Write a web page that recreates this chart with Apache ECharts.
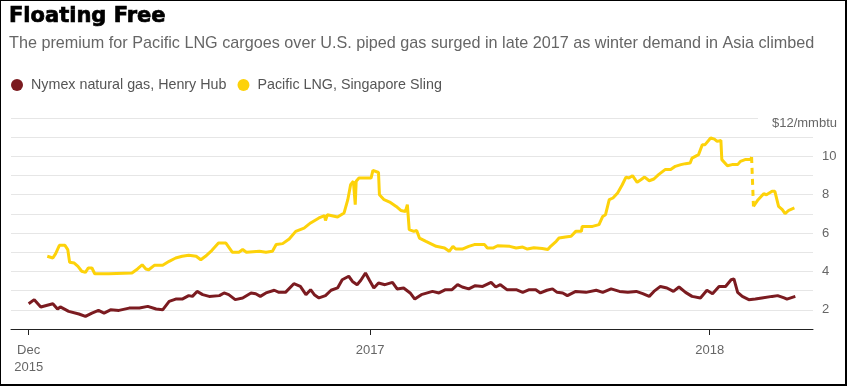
<!DOCTYPE html>
<html>
<head>
<meta charset="utf-8">
<script src="https://cdn.jsdelivr.net/npm/echarts@6/dist/echarts.min.js"></script>
<style>
  html, body { margin: 0; padding: 0; background: #fff; }
  #wrap { position: relative; width: 847px; height: 386px; }
  #chart { position: absolute; left: 0; top: 0; width: 847px; height: 386px; }
  #frame { position: absolute; left: 0; top: 0; width: 847px; height: 386px; box-sizing: border-box;
           border-style: solid; border-color: #000; border-width: 1px 2px 2px 1px; pointer-events: none; }
</style>
</head>
<body>
<div id="wrap"><div id="chart"></div><div id="frame"></div></div>
<script>
// ---------------- data ----------------
const titleText = 'Floating Free';
const subtitleText = 'The premium for Pacific LNG cargoes over U.S. piped gas surged in late 2017 as winter demand in Asia climbed';
const henryName = 'Nymex natural gas, Henry Hub';
const lngName = 'Pacific LNG, Singapore Sling';
const unitLabel = '$12/mmbtu';

const xTickDates = ['2015-12-31', '2017-01-01', '2018-01-01'];
const xTickLabels = ['Dec\n2015', '2017', '2018'];
const yLabelValues = [2, 4, 6, 8, 10];

const henryDates = [
  '2015-12-31','2016-01-06','2016-01-13','2016-01-26','2016-01-31','2016-02-03','2016-02-12','2016-02-23',
  '2016-03-01','2016-03-08','2016-03-15','2016-03-21','2016-03-28','2016-04-06','2016-04-17','2016-04-28',
  '2016-05-07','2016-05-16','2016-05-23','2016-05-30','2016-06-06','2016-06-13','2016-06-20','2016-06-24',
  '2016-06-29','2016-07-05','2016-07-12','2016-07-23','2016-07-28','2016-08-02','2016-08-09','2016-08-17',
  '2016-08-26','2016-08-31','2016-09-05','2016-09-11','2016-09-20','2016-09-25','2016-10-02','2016-10-11',
  '2016-10-18','2016-10-24','2016-10-29','2016-11-02','2016-11-07','2016-11-14','2016-11-20','2016-11-27',
  '2016-12-02','2016-12-09','2016-12-13','2016-12-18','2016-12-22','2016-12-27','2016-12-31','2017-01-05',
  '2017-01-10','2017-01-17','2017-01-25','2017-01-30','2017-02-06','2017-02-13','2017-02-18','2017-02-25',
  '2017-03-09','2017-03-16','2017-03-23','2017-03-30','2017-04-05','2017-04-10','2017-04-17','2017-04-24',
  '2017-05-02','2017-05-11','2017-05-16','2017-05-21','2017-05-28','2017-06-07','2017-06-14','2017-06-21',
  '2017-06-28','2017-07-03','2017-07-10','2017-07-16','2017-07-21','2017-07-27','2017-08-01','2017-08-10',
  '2017-08-21','2017-09-01','2017-09-08','2017-09-17','2017-09-26','2017-10-05','2017-10-14','2017-10-21',
  '2017-10-28','2017-11-02','2017-11-09','2017-11-16','2017-11-23','2017-11-29','2017-12-06','2017-12-13',
  '2017-12-22','2017-12-29','2018-01-04','2018-01-11','2018-01-18','2018-01-24','2018-01-27','2018-01-31',
  '2018-02-05','2018-02-12','2018-02-19','2018-02-26','2018-03-09','2018-03-15','2018-03-22','2018-03-25',
  '2018-04-03'
];
const henryValues = [
  2.32,2.53,2.15,2.32,2.04,2.15,1.92,1.78,
  1.66,1.83,1.97,1.83,2.00,1.97,2.09,2.09,
  2.18,2.04,2.00,2.44,2.56,2.56,2.74,2.70,
  2.96,2.79,2.70,2.74,2.88,2.79,2.53,2.62,
  2.88,2.84,2.70,2.88,3.02,2.91,2.91,3.36,
  3.22,2.79,3.05,2.79,2.62,2.74,3.02,3.14,
  3.57,3.75,3.48,3.31,3.54,3.92,3.57,3.14,
  3.40,3.31,3.43,3.09,3.14,2.88,2.56,2.79,
  2.96,2.88,3.05,3.05,3.31,3.19,3.09,3.26,
  3.22,3.43,3.19,3.31,3.05,3.05,2.91,3.05,
  3.05,2.88,3.02,3.09,2.91,2.88,2.74,2.96,
  2.91,3.02,2.91,3.09,2.96,2.91,2.96,2.84,
  2.70,2.96,3.22,3.14,2.96,3.19,2.91,2.70,
  2.62,3.02,2.84,3.22,3.22,3.57,3.61,2.91,
  2.70,2.53,2.56,2.62,2.70,2.74,2.62,2.56,
  2.70
];

const lngDates = [
  '2016-01-20','2016-01-26','2016-01-29','2016-02-02','2016-02-08','2016-02-11','2016-02-13','2016-02-18',
  '2016-02-22','2016-02-26','2016-03-01','2016-03-04','2016-03-08','2016-03-11','2016-03-26','2016-04-20',
  '2016-04-26','2016-05-01','2016-05-05','2016-05-08','2016-05-14','2016-05-23','2016-05-30','2016-06-06',
  '2016-06-13','2016-06-20','2016-06-28','2016-07-03','2016-07-08','2016-07-15','2016-07-22','2016-07-30',
  '2016-08-06','2016-08-13','2016-08-17','2016-08-21','2016-09-04','2016-09-11','2016-09-18','2016-09-22',
  '2016-09-29','2016-10-06','2016-10-13','2016-10-22','2016-10-29','2016-11-07','2016-11-13','2016-11-14',
  '2016-11-16','2016-11-27','2016-12-04','2016-12-08','2016-12-11','2016-12-14','2016-12-16','2016-12-17',
  '2016-12-20','2017-01-02','2017-01-04','2017-01-10','2017-01-11','2017-01-16','2017-01-22','2017-01-29',
  '2017-02-03','2017-02-08','2017-02-10','2017-02-12','2017-02-17','2017-02-20','2017-02-23','2017-03-02',
  '2017-03-13','2017-03-22','2017-03-27','2017-03-31','2017-04-03','2017-04-10','2017-04-17','2017-04-23',
  '2017-05-04','2017-05-07','2017-05-13','2017-05-18','2017-05-31','2017-06-07','2017-06-14','2017-06-19',
  '2017-06-26','2017-07-05','2017-07-11','2017-07-14','2017-07-20','2017-07-23','2017-07-30','2017-08-05',
  '2017-08-10','2017-08-16','2017-08-17','2017-08-28','2017-09-04','2017-09-08','2017-09-11','2017-09-15',
  '2017-09-19','2017-09-24','2017-09-29','2017-10-03','2017-10-06','2017-10-10','2017-10-15','2017-10-19',
  '2017-10-23','2017-10-28','2017-11-02','2017-11-07','2017-11-14','2017-11-20','2017-11-25','2017-12-01',
  '2017-12-06','2017-12-11','2017-12-13','2017-12-20','2017-12-24','2017-12-27','2018-01-02','2018-01-06',
  '2018-01-09','2018-01-13','2018-01-14','2018-01-20','2018-01-25','2018-01-31','2018-02-03','2018-02-08',
  '2018-02-14','2018-02-15',
  '2018-02-17','2018-02-22','2018-02-28','2018-03-03','2018-03-09','2018-03-12','2018-03-16','2018-03-20',
  '2018-03-23','2018-03-27','2018-04-02'
];
const lngValues = [
  4.79,4.70,4.93,5.36,5.36,5.14,4.48,4.44,
  4.27,4.01,3.95,4.18,4.18,3.88,3.88,3.92,
  4.13,4.35,4.13,4.09,4.32,4.32,4.53,4.70,
  4.79,4.84,4.79,4.61,4.79,5.10,5.48,5.48,
  5.00,5.00,5.14,5.00,5.05,5.00,5.05,5.40,
  5.45,5.69,6.09,6.26,6.53,6.79,6.91,6.66,
  6.96,6.84,7.05,7.74,8.52,8.70,7.48,8.70,
  8.87,8.87,9.27,9.16,8.00,7.74,7.62,7.39,
  7.18,7.13,7.48,6.18,6.09,6.14,5.74,5.57,
  5.31,5.22,5.05,5.31,5.17,5.17,5.31,5.40,
  5.40,5.22,5.22,5.34,5.31,5.22,5.27,5.17,
  5.24,5.20,5.14,5.31,5.57,5.74,5.80,5.83,
  6.09,6.09,6.35,6.35,6.44,6.87,6.96,7.74,
  7.83,8.09,8.52,8.92,8.87,8.99,8.65,8.78,
  8.92,8.73,8.82,9.05,9.31,9.31,9.48,9.57,
  9.62,9.65,9.91,10.09,10.61,10.61,10.96,10.90,
  10.78,10.83,9.83,9.51,9.57,9.57,9.74,9.83,
  9.83,9.97,
  7.39,7.74,8.05,8.00,8.18,8.18,7.39,7.22,
  7.01,7.19,7.31
];
// last reported date before the missing stretch that the chart bridges with a dashed line
const lngGapAfter = '2018-02-15';

// ---------------- chart ----------------
const parse = (d) => +echarts.time.parse(d);
const tickTs = xTickDates.map(parse);
const henryData = henryDates.map((d, i) => [parse(d), henryValues[i]]);
const gapIdx = lngDates.indexOf(lngGapAfter);
const lngAll = lngDates.map((d, i) => [parse(d), lngValues[i]]);
const lngBefore = lngAll.slice(0, gapIdx + 1);
const lngAfter = lngAll.slice(gapIdx + 1);
const lngBridge = [lngAll[gapIdx], lngAll[gapIdx + 1]];

const FONT = "'Liberation Sans', Arial, sans-serif";
const BROWN = '#7b1b20';
const YELLOW = '#fdd20a';

const chart = echarts.init(document.getElementById('chart'), null, { renderer: 'canvas' });
chart.setOption({
  animation: false,
  backgroundColor: '#fff',
  title: [
    {
      text: titleText,
      left: 9, top: 6, padding: 0,
      textStyle: { fontFamily: "'DejaVu Sans', sans-serif", fontWeight: 'bold', fontSize: 21, color: '#000',
                   textBorderColor: '#000', textBorderWidth: 0.7 }
    },
    {
      text: subtitleText,
      left: 9, top: 36, padding: 0,
      textStyle: { fontFamily: FONT, fontWeight: 'normal', fontSize: 16.2, color: '#666' }
    }
  ],
  legend: {
    data: [henryName, lngName],
    left: 11, top: 78, padding: 0,
    icon: 'circle', itemWidth: 18, itemHeight: 12, itemGap: 11,
    textStyle: { fontFamily: FONT, fontSize: 14.3, color: '#555' }
  },
  grid: { left: 11, right: 34, top: 118, bottom: 57, containLabel: false },
  xAxis: {
    type: 'value',
    min: parse('2015-12-12'),
    max: parse('2018-04-22'),
    axisLine: { lineStyle: { color: '#222', width: 1 } },
    axisTick: { show: true, customValues: tickTs, length: 6, lineStyle: { color: '#222' } },
    axisLabel: {
      customValues: tickTs,
      formatter: (v) => { const i = tickTs.indexOf(v); return i >= 0 ? xTickLabels[i] : ''; },
      fontFamily: FONT, fontSize: 13, color: '#666', lineHeight: 17, margin: 13
    },
    splitLine: { show: false }
  },
  yAxis: {
    type: 'value',
    position: 'right',
    min: 1, max: 12, interval: 1,
    axisLine: { show: false },
    axisTick: { show: false },
    splitLine: { lineStyle: { color: '#e6e6e6', width: 1 } },
    axisLabel: {
      align: 'right', margin: 24,
      fontFamily: FONT, fontSize: 13, color: '#666',
      formatter: (v) => v === 12 ? '{u|' + unitLabel + '}' : (yLabelValues.indexOf(v) >= 0 ? '{n|' + v + '}' : ''),
      rich: {
        n: { width: 15, align: 'left', fontFamily: FONT, fontSize: 13, color: '#666' },
        u: { backgroundColor: '#fff', padding: [10, 0, 0, 14], fontFamily: FONT, fontSize: 13, color: '#666' }
      }
    }
  },
  series: [
    { name: henryName, type: 'line', data: henryData, showSymbol: false, color: BROWN,
      lineStyle: { color: BROWN, width: 3 }, z: 3 },
    { name: lngName, type: 'line', data: lngBefore, showSymbol: false, color: YELLOW,
      lineStyle: { color: YELLOW, width: 3 }, z: 2 },
    { name: lngName, type: 'line', data: lngBridge, showSymbol: false, color: YELLOW,
      lineStyle: { color: YELLOW, width: 3, type: [6, 5] }, z: 2 },
    { name: lngName, type: 'line', data: lngAfter, showSymbol: false, color: YELLOW,
      lineStyle: { color: YELLOW, width: 3 }, z: 2 }
  ]
});
</script>
</body>
</html>
